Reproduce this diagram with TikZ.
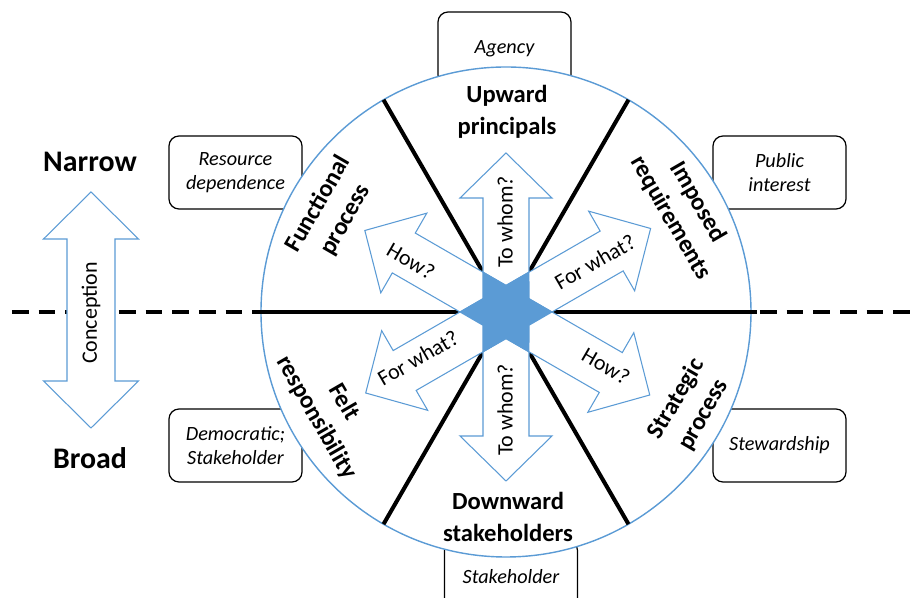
\documentclass[tikz,border=0pt]{standalone}
\usepackage{fontspec}
\setmainfont{Carlito}
\usetikzlibrary{calc}
\definecolor{ringBlue}{RGB}{91,155,213}
\definecolor{hubBlue}{RGB}{91,155,213}
\newcommand{\sectorfont}{\fontsize{14}{18}\selectfont\bfseries}
\newcommand{\polefont}{\fontsize{17}{20}\selectfont\bfseries}
\newcommand{\boxfont}{\fontsize{11.5}{14}\selectfont\itshape}
\newcommand{\askfont}{\fontsize{12.5}{15}\selectfont}

\begin{document}
\begin{tikzpicture}[
    outerbox/.style={draw, rounded corners=0.2cm, fill=white, line width=0.7pt, minimum width=2.66cm, minimum height=1.46cm, align=center, font=\boxfont},
    sector/.style={align=center, font=\sectorfont},
    ask/.style={font=\askfont},
    pole/.style={font=\polefont},
    divider/.style={line width=2.3pt},
    blockarrow/.style={draw=ringBlue, fill=white, line width=0.6pt, line join=miter}
  ]
  \useasboundingbox (-10.12,-5.72) rectangle (8.08,6.24);
  \coordinate (hub) at (0,0);

  % narrow / broad split
  \draw[line width=2.3pt, dash pattern=on 9.5pt off 5.7pt] (-9.88,0) -- (8.3,0);

  % theories sitting behind the ring
  \node[outerbox] (agency) at (-0.03,5.27) {Agency};
  \node[outerbox] (resource) at (-5.41,2.79) {Resource\\dependence};
  \node[outerbox] (public) at (5.47,2.79) {Public\\interest};
  \node[outerbox] (democratic) at (-5.41,-2.67) {Democratic;\\Stakeholder};
  \node[outerbox] (stewardship) at (5.47,-2.67) {Stewardship};
  \node[outerbox] (stakeholder) at (0.1,-5.3) {Stakeholder};

  % the ring and its six sectors
  \draw[ringBlue, line width=0.8pt, fill=white] (hub) circle (4.9);
  \draw[divider] (-5.03,0) -- (5.03,0);
  \draw[divider] (60:4.9) -- (240:4.9);
  \draw[divider] (120:4.9) -- (300:4.9);

  % question arrows out of the hub
  \foreach \ang/\len in {90/3.18, 270/3.38, 30/3.34, 150/3.26, 210/3.24, 330/3.32}
    \draw[blockarrow, rotate=\ang] (0,-0.46) -- ({\len-0.9},-0.46) -- ({\len-0.9},-0.92) -- (\len,0)
      -- ({\len-0.9},0.92) -- ({\len-0.9},0.46) -- (0,0.46) -- cycle;

  % six-pointed hub
  \fill[hubBlue] (0:0.94) \foreach \a in {30,90,...,330} { -- (\a:0.543) -- (\a+30:0.94) } -- cycle;

  \node[ask, rotate=90] (whomup) at (-0.02,1.8) {To whom?};
  \node[ask, rotate=90] (whomdown) at (-0.02,-1.96) {To whom?};
  \node[ask, rotate=-30] (howleft) at (-1.9,1.02) {How?};
  \node[ask, rotate=30] (forright) at (1.78,1.0) {For what?};
  \node[ask, rotate=30] (forleft) at (-1.76,-0.92) {For what?};
  \node[ask, rotate=-30] (howright) at (2.0,-1.08) {How?};

  \node[sector] (upward) at (0.02,4.0) {Upward\\principals};
  \node[sector, rotate=-60] (imposed) at (3.56,2.04) {Imposed\\requirements};
  \node[sector, rotate=60] (functional) at (-3.48,2.0) {Functional\\process};
  \node[sector, rotate=-60] (felt) at (-3.52,-1.96) {Felt\\responsibility};
  \node[sector, rotate=60] (strategic) at (3.68,-1.9) {Strategic\\process};
  \node[sector] (downward) at (0.04,-4.1) {Downward\\stakeholders};

  % conception scale on the left
  \draw[blockarrow] (-8.3,2.40) -- (-7.35,1.46) -- (-7.82,1.46) -- (-7.82,-1.38) -- (-7.35,-1.38)
    -- (-8.3,-2.32) -- (-9.25,-1.38) -- (-8.78,-1.38) -- (-8.78,1.46) -- (-9.25,1.46) -- cycle;
  \node[ask, rotate=90] (conception) at (-8.3,-0.02) {Conception};
  \node[pole] (narrow) at (-8.32,3.0) {Narrow};
  \node[pole] (broad) at (-8.32,-2.92) {Broad};
\end{tikzpicture}
\end{document}
